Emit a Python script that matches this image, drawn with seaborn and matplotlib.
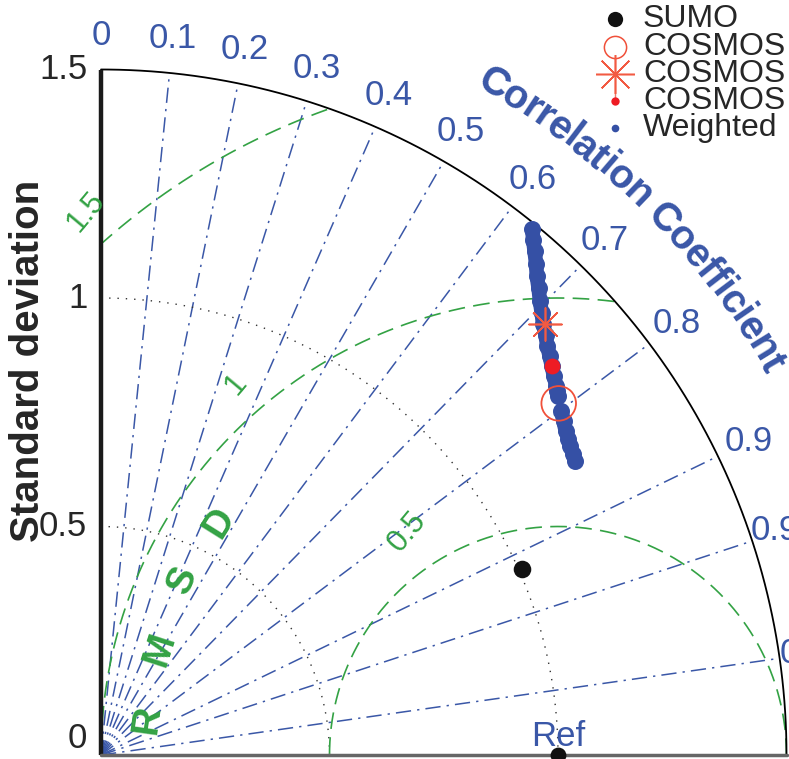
import numpy as np
import pandas as pd
import seaborn as sns
import matplotlib.pyplot as plt

sns.set_style('white')
plt.rcParams['font.family'] = ['Liberation Sans', 'DejaVu Sans']

# 数据 (std, corr)
ref_std = 1.0
sumo_std, sumo_corr = 1.007, 0.915
cosmos_o_std, cosmos_o_corr = 1.263, 0.793
cosmos_star_std, cosmos_star_corr = 1.354, 0.718
cosmos_dot_std, cosmos_dot_corr = 1.303, 0.757

# weighted 两段
weighted_std = [1.488, 1.471, 1.455, 1.436, 1.417, 1.400, 1.382, 1.366, 1.351, 1.338,
                1.325, 1.314, 1.303, 1.292, 1.282, 1.277, 1.272,
                1.257, 1.248, 1.240, 1.235, 1.229, 1.225, 1.221]
weighted_corr = [0.634, 0.643, 0.652, 0.663, 0.673, 0.684, 0.695, 0.706, 0.716, 0.727,
                 0.737, 0.747, 0.757, 0.767, 0.777, 0.782, 0.786,
                 0.801, 0.811, 0.820, 0.828, 0.835, 0.843, 0.850]
weighted_part = [1] * 17 + [2] * 7

corr_ticks = [0, 0.1, 0.2, 0.3, 0.4, 0.5, 0.6, 0.7, 0.8, 0.9, 0.95, 0.99]
corr_labels = ['0', '0.1', '0.2', '0.3', '0.4', '0.5', '0.6', '0.7', '0.8', '0.9', '0.95', '0.99']
std_ticks = [0, 0.5, 1.0, 1.5]
std_labels = ['0', '0.5', '1', '1.5']
rmsd_levels = [0.5, 1.0, 1.5]
rmsd_labels = ['0.5', '1', '1.5']
legend_names = ['SUMO', 'COSMOS', 'COSMOS', 'COSMOS', 'Weighted']

blue = '#3a57a7'
green = '#33a244'
red = '#f0503a'
wblue = '#3550a5'
rmax = 1.5


def polar_xy(std, corr):
    std = np.asarray(std, dtype=float)
    corr = np.asarray(corr, dtype=float)
    return std * corr, std * np.sqrt(1 - corr ** 2)


fig = plt.figure(figsize=(7.89, 7.59), dpi=100)
ax = fig.add_axes([101 / 789, 4 / 759, 685.5 / 789, 685.5 / 759])
ax.set_xlim(0, rmax)
ax.set_ylim(0, rmax)
ax.axis('off')

# 相关系数射线
for c in corr_ticks[1:]:
    th = np.arccos(c)
    ax.plot([0, rmax * np.cos(th)], [0, rmax * np.sin(th)], color=blue, lw=1.1,
            linestyle=(0, (10, 4, 1.5, 4)), zorder=1)

# 标准差圆 (虚点)
th = np.linspace(0, np.pi / 2, 300)
for s in std_ticks[1:-1]:
    ax.plot(s * np.cos(th), s * np.sin(th), color='#333333', lw=1.0,
            linestyle=(0, (1, 5)), zorder=1)

# RMSD 圆
th2 = np.linspace(0, np.pi, 600)
rmsd_angle = [124, 131, 131]
for r, lab, ang in zip(rmsd_levels, rmsd_labels, rmsd_angle):
    x = ref_std + r * np.cos(th2)
    y = r * np.sin(th2)
    keep = (x >= 0) & (x ** 2 + y ** 2 <= rmax ** 2 + 1e-9)
    x = np.where(keep, x, np.nan)
    y = np.where(keep, y, np.nan)
    ax.plot(x, y, color=green, lw=1.2, linestyle=(0, (10, 5)), zorder=1)
    a = np.deg2rad(ang)
    d = r + 0.09 if r < 1 else r + 0.075
    ax.text(ref_std + d * np.cos(a), d * np.sin(a), lab, color=green, fontsize=22,
            rotation=50, ha='center', va='center', clip_on=False)

# RMSD 字样
rmsd_pos = [(0.101, 0.077), (0.129, 0.230), (0.179, 0.383), (0.260, 0.508)]
for ch, (px, py), rot in zip('RMSD', rmsd_pos, [82, 72, 66, 58]):
    ax.text(px, py, ch, color=green, fontsize=28, fontweight='bold',
            rotation=rot, ha='center', va='center', rotation_mode='anchor')

# 外圈和坐标轴
ax.plot(rmax * np.cos(th), rmax * np.sin(th), color='k', lw=1.3, clip_on=False, zorder=2)
ax.plot([0, 0], [0, rmax], color='#1a1a1a', lw=3.2, clip_on=False, solid_capstyle='butt', zorder=2)
ax.plot([0, rmax], [0, 0], color='#666666', lw=2.5, clip_on=False, zorder=2)

for v, lab in zip(std_ticks, std_labels):
    ax.text(-0.03, v, lab, fontsize=25, ha='right', va='bottom' if v == 0 else 'center',
            clip_on=False)
fig.text(28 / 789, 1 - 361 / 759, 'Standard deviation', rotation=90, fontsize=29,
         fontweight='bold', ha='center', va='center')

for c, lab in zip(corr_ticks, corr_labels):
    th_c = np.arccos(c)
    ax.text(1.575 * np.cos(th_c), 1.575 * np.sin(th_c), lab, color=blue, fontsize=25,
            ha='center', va='center', clip_on=False)

# Correlation Coefficient 弯曲标题
title = 'Correlation Coefficient'
adv = {'C': 722, 'o': 611, 'r': 389, 'e': 556, 'l': 278, 'a': 556, 't': 333,
       'i': 278, 'n': 611, ' ': 278, 'f': 333, 'c': 556}
w = np.array([adv[ch] for ch in title], dtype=float)
centers = np.cumsum(w) - w / 2
frac = (centers - centers[0]) / (centers[-1] - centers[0])
angs = 59.7 + (30.3 - 59.7) * frac
for ch, a in zip(title, angs):
    ar = np.deg2rad(a)
    ax.text(1.70 * np.cos(ar), 1.70 * np.sin(ar), ch, color=blue, fontsize=29,
            fontweight='bold', rotation=a - 90, ha='center', va='center',
            rotation_mode='anchor', clip_on=False)

# 数据点
wx, wy = polar_xy(weighted_std, weighted_corr)
df_w = pd.DataFrame({'x': wx, 'y': wy, 'part': weighted_part})
for _, seg in df_w.groupby('part'):
    sns.lineplot(data=seg, x='x', y='y', ax=ax, color=wblue, lw=10.5, sort=False,
                 estimator=None, solid_capstyle='round', zorder=3, legend=False)
sns.scatterplot(data=df_w, x='x', y='y', ax=ax, color=wblue, s=150,
                linewidth=0, zorder=3, legend=False)

sx, sy = polar_xy([sumo_std], [sumo_corr])
sns.scatterplot(x=sx, y=sy, ax=ax, color='#111111', s=160, linewidth=0, zorder=4)

ox, oy = polar_xy([cosmos_o_std], [cosmos_o_corr])
ax.scatter(ox, oy, s=620, facecolors='none', edgecolors=red, linewidths=1.3, zorder=5)

tx, ty = polar_xy([cosmos_star_std], [cosmos_star_corr])
ax.scatter(tx, ty, s=560, marker=(8, 2, 0), color='#f25a42', linewidths=1.2, zorder=5)

dx, dy = polar_xy([cosmos_dot_std], [cosmos_dot_corr])
sns.scatterplot(x=dx, y=dy, ax=ax, color='#ee1c24', s=130, linewidth=0, zorder=6)

rx, ry = polar_xy([ref_std], [1.0])
sns.scatterplot(x=rx, y=ry, ax=ax, color='#111111', s=130, linewidth=0, zorder=6, clip_on=False)
ax.text(ref_std, 0.04, 'Ref', color=blue, fontsize=25, ha='center', va='center')
ax.set_xlabel('')
ax.set_ylabel('')

# 图例
lax = fig.add_axes([590 / 789, 1 - 145 / 759, 199 / 789, 145 / 759])
lax.set_xlim(0, 199)
lax.set_ylim(145, 0)
lax.axis('off')
rows = [19, 47, 74, 101, 128]
mx = 25
lax.plot([mx, mx], [50, 101], color='#f07a68', lw=1.0, zorder=1)
lax.plot(mx, rows[0], 'o', color='#111111', ms=11, mew=0)
lax.plot(mx, rows[1], 'o', mfc='white', mec=red, ms=16, mew=1.1)
lax.plot(mx, rows[2], marker=(8, 2, 0), color='#f25a42', ms=28, mew=1.1, linestyle='none')
lax.plot(mx, rows[3], 'o', color='#ee1c24', ms=6, mew=0)
lax.plot(mx, rows[4], 'o', color=wblue, ms=5.5, mew=0)
for yy, name in zip(rows, legend_names):
    lax.text(53, yy, name, fontsize=23, ha='left', va='center', clip_on=False)

fig.savefig('out.png', dpi=100)
